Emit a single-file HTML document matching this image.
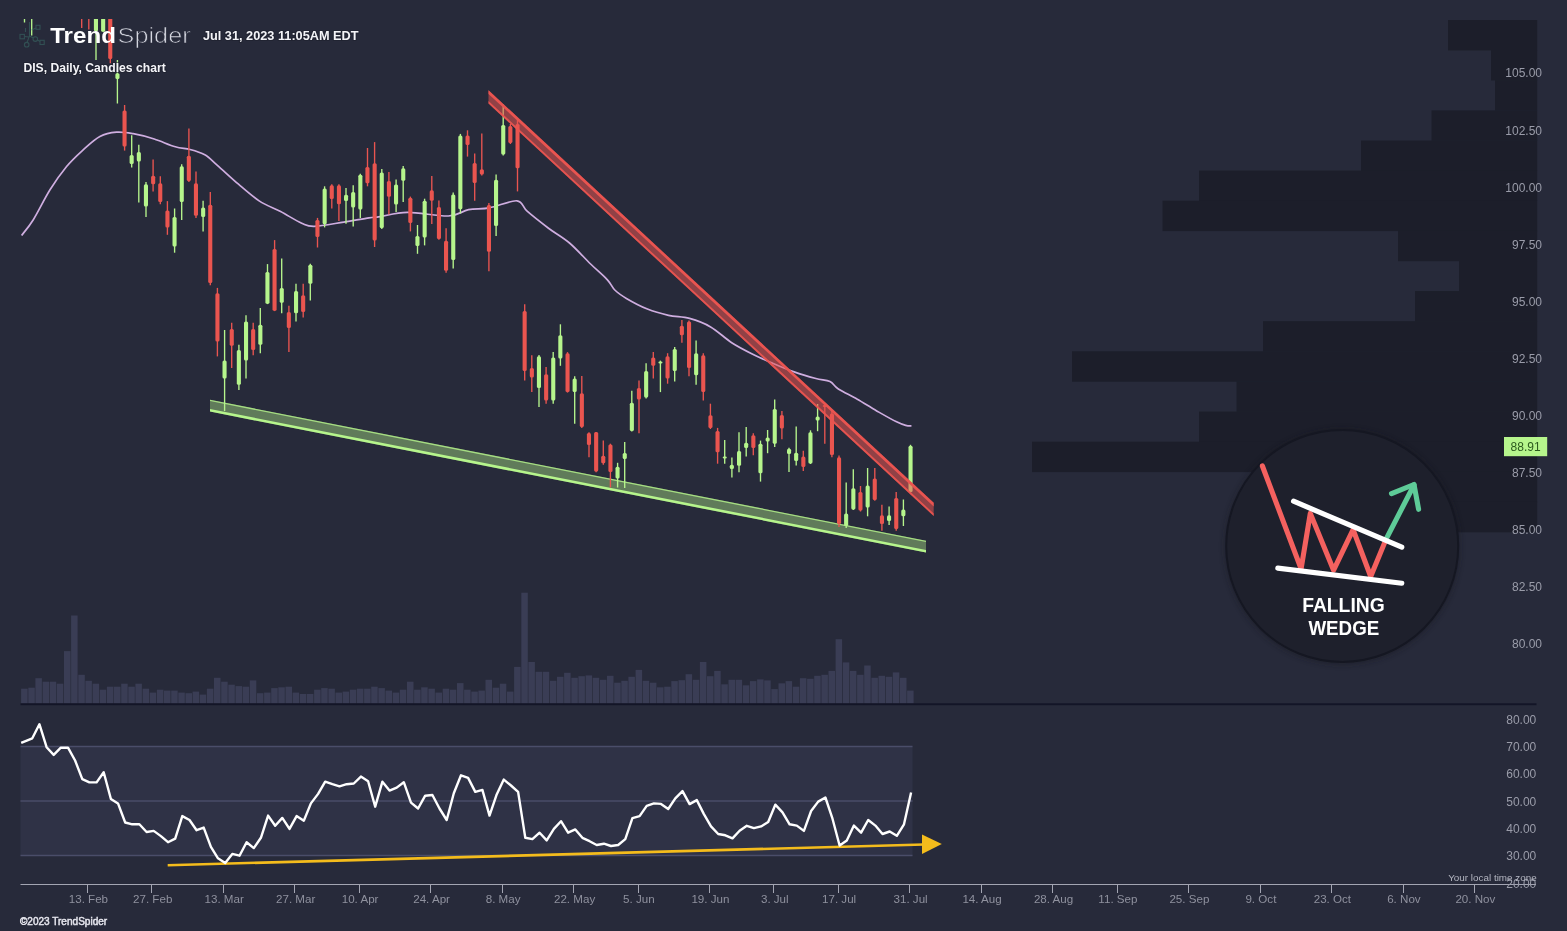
<!DOCTYPE html>
<html><head><meta charset="utf-8"><title>DIS chart</title>
<style>
html,body{margin:0;padding:0;background:#272a3a;}
body{width:1567px;height:931px;overflow:hidden;position:relative;font-family:"Liberation Sans",sans-serif;}
svg{position:absolute;left:0;top:0;display:block;opacity:0.999}
text{font-family:"Liberation Sans",sans-serif;}
</style></head><body>
<svg width="1567" height="931" viewBox="0 0 1567 931">
<defs><clipPath id="cp"><rect x="20.5" y="19" width="1517" height="685"/></clipPath>
<filter id="bl" x="-5%" y="-5%" width="110%" height="110%"><feGaussianBlur stdDeviation="0.4"/></filter>
<filter id="sh" x="-10%" y="-10%" width="120%" height="120%"><feGaussianBlur stdDeviation="2.5"/></filter></defs>
<rect width="1567" height="931" fill="#272a3a"/>
<g fill="#1c1e2a">
<rect x="1448.0" y="20.0" width="89.2" height="30.4"/>
<rect x="1491.0" y="50.1" width="46.2" height="30.4"/>
<rect x="1495.0" y="80.2" width="42.2" height="30.4"/>
<rect x="1431.5" y="110.4" width="105.7" height="30.4"/>
<rect x="1361.0" y="140.5" width="176.2" height="30.4"/>
<rect x="1199.0" y="170.6" width="338.2" height="30.4"/>
<rect x="1162.5" y="200.7" width="374.7" height="30.4"/>
<rect x="1398.0" y="230.8" width="139.2" height="30.4"/>
<rect x="1459.0" y="261.0" width="78.2" height="30.4"/>
<rect x="1415.0" y="291.1" width="122.2" height="30.4"/>
<rect x="1263.0" y="321.2" width="274.2" height="30.4"/>
<rect x="1072.0" y="351.3" width="465.2" height="30.4"/>
<rect x="1236.5" y="381.4" width="300.7" height="30.4"/>
<rect x="1199.0" y="411.6" width="338.2" height="30.4"/>
<rect x="1032.0" y="441.7" width="505.2" height="30.4"/>
<rect x="1290.0" y="471.8" width="247.2" height="30.4"/>
<rect x="1290.0" y="501.9" width="247.2" height="30.4"/>
</g>
<g fill="#3a3d55" clip-path="url(#cp)">
<rect x="21.1" y="688.7" width="6.5" height="14.8"/>
<rect x="28.3" y="687.7" width="6.5" height="15.8"/>
<rect x="35.4" y="678.2" width="6.5" height="25.3"/>
<rect x="42.6" y="681.7" width="6.5" height="21.8"/>
<rect x="49.7" y="681.7" width="6.5" height="21.8"/>
<rect x="56.8" y="683.7" width="6.5" height="19.8"/>
<rect x="64.0" y="651.1" width="6.5" height="52.4"/>
<rect x="71.1" y="615.5" width="6.5" height="88.0"/>
<rect x="78.3" y="674.8" width="6.5" height="28.7"/>
<rect x="85.4" y="680.8" width="6.5" height="22.7"/>
<rect x="92.6" y="683.7" width="6.5" height="19.8"/>
<rect x="99.7" y="689.7" width="6.5" height="13.8"/>
<rect x="106.9" y="686.7" width="6.5" height="16.8"/>
<rect x="114.0" y="686.7" width="6.5" height="16.8"/>
<rect x="121.2" y="683.7" width="6.5" height="19.8"/>
<rect x="128.3" y="686.7" width="6.5" height="16.8"/>
<rect x="135.4" y="683.7" width="6.5" height="19.8"/>
<rect x="142.6" y="688.7" width="6.5" height="14.8"/>
<rect x="149.7" y="692.6" width="6.5" height="10.9"/>
<rect x="156.9" y="689.7" width="6.5" height="13.8"/>
<rect x="164.0" y="690.6" width="6.5" height="12.9"/>
<rect x="171.2" y="690.6" width="6.5" height="12.9"/>
<rect x="178.3" y="692.6" width="6.5" height="10.9"/>
<rect x="185.5" y="693.2" width="6.5" height="10.3"/>
<rect x="192.6" y="691.6" width="6.5" height="11.9"/>
<rect x="199.7" y="694.6" width="6.5" height="8.9"/>
<rect x="206.9" y="688.7" width="6.5" height="14.8"/>
<rect x="214.0" y="677.8" width="6.5" height="25.7"/>
<rect x="221.2" y="681.7" width="6.5" height="21.8"/>
<rect x="228.3" y="684.7" width="6.5" height="18.8"/>
<rect x="235.5" y="686.1" width="6.5" height="17.4"/>
<rect x="242.6" y="686.7" width="6.5" height="16.8"/>
<rect x="249.8" y="680.4" width="6.5" height="23.1"/>
<rect x="256.9" y="693.2" width="6.5" height="10.3"/>
<rect x="264.1" y="692.6" width="6.5" height="10.9"/>
<rect x="271.2" y="688.1" width="6.5" height="15.4"/>
<rect x="278.3" y="687.3" width="6.5" height="16.2"/>
<rect x="285.5" y="686.7" width="6.5" height="16.8"/>
<rect x="292.6" y="692.6" width="6.5" height="10.9"/>
<rect x="299.8" y="694.0" width="6.5" height="9.5"/>
<rect x="306.9" y="694.0" width="6.5" height="9.5"/>
<rect x="314.1" y="689.7" width="6.5" height="13.8"/>
<rect x="321.2" y="688.1" width="6.5" height="15.4"/>
<rect x="328.4" y="688.7" width="6.5" height="14.8"/>
<rect x="335.5" y="692.6" width="6.5" height="10.9"/>
<rect x="342.6" y="691.6" width="6.5" height="11.9"/>
<rect x="349.8" y="689.7" width="6.5" height="13.8"/>
<rect x="356.9" y="688.7" width="6.5" height="14.8"/>
<rect x="364.1" y="688.7" width="6.5" height="14.8"/>
<rect x="371.2" y="686.7" width="6.5" height="16.8"/>
<rect x="378.4" y="688.1" width="6.5" height="15.4"/>
<rect x="385.5" y="690.6" width="6.5" height="12.9"/>
<rect x="392.7" y="692.6" width="6.5" height="10.9"/>
<rect x="399.8" y="689.7" width="6.5" height="13.8"/>
<rect x="407.0" y="681.7" width="6.5" height="21.8"/>
<rect x="414.1" y="689.7" width="6.5" height="13.8"/>
<rect x="421.2" y="687.3" width="6.5" height="16.2"/>
<rect x="428.4" y="688.7" width="6.5" height="14.8"/>
<rect x="435.5" y="692.6" width="6.5" height="10.9"/>
<rect x="442.7" y="688.7" width="6.5" height="14.8"/>
<rect x="449.8" y="689.7" width="6.5" height="13.8"/>
<rect x="457.0" y="683.1" width="6.5" height="20.4"/>
<rect x="464.1" y="689.7" width="6.5" height="13.8"/>
<rect x="471.3" y="691.6" width="6.5" height="11.9"/>
<rect x="478.4" y="690.6" width="6.5" height="12.9"/>
<rect x="485.5" y="679.8" width="6.5" height="23.7"/>
<rect x="492.7" y="687.7" width="6.5" height="15.8"/>
<rect x="499.8" y="683.7" width="6.5" height="19.8"/>
<rect x="507.0" y="691.6" width="6.5" height="11.9"/>
<rect x="514.1" y="666.9" width="6.5" height="36.6"/>
<rect x="521.3" y="592.7" width="6.5" height="110.8"/>
<rect x="528.4" y="662.0" width="6.5" height="41.5"/>
<rect x="535.6" y="671.8" width="6.5" height="31.7"/>
<rect x="542.7" y="671.8" width="6.5" height="31.7"/>
<rect x="549.9" y="680.8" width="6.5" height="22.7"/>
<rect x="557.0" y="676.8" width="6.5" height="26.7"/>
<rect x="564.1" y="672.8" width="6.5" height="30.7"/>
<rect x="571.3" y="677.8" width="6.5" height="25.7"/>
<rect x="578.4" y="676.2" width="6.5" height="27.3"/>
<rect x="585.6" y="675.4" width="6.5" height="28.1"/>
<rect x="592.7" y="677.8" width="6.5" height="25.7"/>
<rect x="599.9" y="679.8" width="6.5" height="23.7"/>
<rect x="607.0" y="675.8" width="6.5" height="27.7"/>
<rect x="614.2" y="682.7" width="6.5" height="20.8"/>
<rect x="621.3" y="680.8" width="6.5" height="22.7"/>
<rect x="628.4" y="676.8" width="6.5" height="26.7"/>
<rect x="635.6" y="669.9" width="6.5" height="33.6"/>
<rect x="642.7" y="680.8" width="6.5" height="22.7"/>
<rect x="649.9" y="682.7" width="6.5" height="20.8"/>
<rect x="657.0" y="687.3" width="6.5" height="16.2"/>
<rect x="664.2" y="686.7" width="6.5" height="16.8"/>
<rect x="671.3" y="681.1" width="6.5" height="22.4"/>
<rect x="678.5" y="680.2" width="6.5" height="23.3"/>
<rect x="685.6" y="674.2" width="6.5" height="29.3"/>
<rect x="692.8" y="679.8" width="6.5" height="23.7"/>
<rect x="699.9" y="662.0" width="6.5" height="41.5"/>
<rect x="707.0" y="676.2" width="6.5" height="27.3"/>
<rect x="714.2" y="670.9" width="6.5" height="32.6"/>
<rect x="721.3" y="684.3" width="6.5" height="19.2"/>
<rect x="728.5" y="679.8" width="6.5" height="23.7"/>
<rect x="735.6" y="679.8" width="6.5" height="23.7"/>
<rect x="742.8" y="685.3" width="6.5" height="18.2"/>
<rect x="749.9" y="681.1" width="6.5" height="22.4"/>
<rect x="757.1" y="679.4" width="6.5" height="24.1"/>
<rect x="764.2" y="680.4" width="6.5" height="23.1"/>
<rect x="771.3" y="689.1" width="6.5" height="14.4"/>
<rect x="778.5" y="683.3" width="6.5" height="20.2"/>
<rect x="785.6" y="681.1" width="6.5" height="22.4"/>
<rect x="792.8" y="686.7" width="6.5" height="16.8"/>
<rect x="799.9" y="678.2" width="6.5" height="25.3"/>
<rect x="807.1" y="678.8" width="6.5" height="24.7"/>
<rect x="814.2" y="675.8" width="6.5" height="27.7"/>
<rect x="821.4" y="674.8" width="6.5" height="28.7"/>
<rect x="828.5" y="670.9" width="6.5" height="32.6"/>
<rect x="835.6" y="639.2" width="6.5" height="64.3"/>
<rect x="842.8" y="662.4" width="6.5" height="41.1"/>
<rect x="849.9" y="670.9" width="6.5" height="32.6"/>
<rect x="857.1" y="674.8" width="6.5" height="28.7"/>
<rect x="864.2" y="665.5" width="6.5" height="38.0"/>
<rect x="871.4" y="677.8" width="6.5" height="25.7"/>
<rect x="878.5" y="675.8" width="6.5" height="27.7"/>
<rect x="885.7" y="676.8" width="6.5" height="26.7"/>
<rect x="892.8" y="672.4" width="6.5" height="31.1"/>
<rect x="900.0" y="677.8" width="6.5" height="25.7"/>
<rect x="907.1" y="690.6" width="6.5" height="12.9"/>
</g>
<path fill="none" stroke="#cfaee0" stroke-width="1.7" stroke-linejoin="round" d="M21.6,235.4 C23.6,232.8 28.6,227.3 33.3,219.7 C38.0,212.1 44.5,198.7 50.0,189.8 C55.5,180.9 61.1,173.2 66.6,166.5 C72.1,159.8 77.7,154.8 83.2,149.8 C88.8,144.8 94.4,139.4 99.9,136.5 C105.5,133.6 111.0,132.7 116.5,132.2 C122.0,131.7 126.9,132.6 133.2,133.7 C139.5,134.8 147.2,136.8 154.2,139.0 C161.2,141.2 169.3,145.1 175.3,146.8 C181.3,148.6 185.1,148.2 190.0,149.5 C194.9,150.8 200.2,152.2 204.8,154.8 C209.4,157.4 211.8,160.4 217.4,165.3 C223.0,170.2 231.5,178.2 238.5,184.2 C245.5,190.2 252.5,196.5 259.5,201.1 C266.5,205.7 273.6,207.9 280.6,211.6 C287.6,215.3 296.1,220.7 301.7,223.2 C307.3,225.7 307.3,226.6 314.3,226.4 C321.3,226.2 334.7,223.5 343.8,222.1 C352.9,220.7 363.0,218.8 369.0,217.9 C375.0,217.0 373.6,217.5 380.0,216.6 C386.4,215.7 396.0,212.5 407.4,212.4 C418.8,212.3 438.2,216.4 448.4,216.0 C458.6,215.6 461.6,211.1 468.5,209.7 C475.4,208.3 481.4,209.3 489.5,207.8 C497.6,206.3 510.6,200.2 516.9,200.8 C523.2,201.4 522.1,206.8 527.4,211.4 C532.7,216.0 541.5,222.9 548.5,228.2 C555.5,233.5 562.5,237.0 569.5,243.0 C576.5,249.0 584.3,257.9 590.6,264.0 C596.9,270.1 603.4,275.5 607.4,279.8 C611.4,284.1 611.6,286.9 614.8,290.0 C618.0,293.1 621.0,295.2 626.4,298.4 C631.8,301.6 640.4,306.2 647.4,309.0 C654.4,311.8 661.5,313.7 668.5,315.3 C675.5,316.9 682.5,316.5 689.5,318.4 C696.5,320.3 703.6,322.8 710.6,326.9 C717.6,330.9 724.7,338.1 731.7,342.7 C738.7,347.2 745.7,350.7 752.7,354.2 C759.7,357.7 766.8,360.7 773.8,363.7 C780.8,366.7 787.8,369.6 794.8,372.1 C801.8,374.6 810.0,376.9 815.9,378.5 C821.8,380.1 826.3,379.9 830.0,381.6 C833.7,383.3 833.5,385.8 838.0,388.7 C842.5,391.6 850.8,395.6 857.3,399.3 C863.8,403.0 870.2,407.2 876.7,410.9 C883.2,414.6 891.2,419.2 896.0,421.6 C900.8,424.0 903.1,424.7 905.7,425.4 C908.3,426.1 910.5,425.9 911.5,426.0"/>
<polygon points="210.0,399.8 926.0,540.7 926.0,552.5 210.0,411.6" fill="#b6f58c" fill-opacity="0.40"/>
<polygon points="210.0,399.8 926.0,540.7 926.0,542.0 210.0,401.1" fill="#b6f58c" fill-opacity="0.8"/>
<polygon points="210.0,409.0 926.0,549.9 926.0,552.5 210.0,411.6" fill="#b6f58c"/>
<g clip-path="url(#cp)" filter="url(#bl)">
<line x1="24.5" y1="0.0" x2="24.5" y2="22.5" stroke="#b6f58c" stroke-width="1.35"/><rect x="22.5" y="0.0" width="4.1" height="5.0" rx="1.5" fill="#b6f58c"/>
<line x1="31.7" y1="0.0" x2="31.7" y2="35.5" stroke="#b6f58c" stroke-width="1.35"/><rect x="29.6" y="0.0" width="4.1" height="5.0" rx="1.5" fill="#b6f58c"/>
<line x1="81.7" y1="0.0" x2="81.7" y2="28.0" stroke="#ea5450" stroke-width="1.35"/><rect x="79.6" y="0.0" width="4.1" height="5.0" rx="1.5" fill="#ea5450"/>
<line x1="88.8" y1="0.0" x2="88.8" y2="29.5" stroke="#ea5450" stroke-width="1.35"/><rect x="86.8" y="0.0" width="4.1" height="5.0" rx="1.5" fill="#ea5450"/>
<line x1="96.0" y1="0.0" x2="96.0" y2="60.0" stroke="#b6f58c" stroke-width="1.35"/><rect x="93.9" y="0.0" width="4.1" height="31.3" rx="1.5" fill="#b6f58c"/>
<line x1="103.1" y1="0.0" x2="103.1" y2="31.7" stroke="#b6f58c" stroke-width="1.35"/><rect x="101.1" y="0.0" width="4.1" height="31.7" rx="1.5" fill="#b6f58c"/>
<line x1="110.3" y1="0.0" x2="110.3" y2="63.3" stroke="#ea5450" stroke-width="1.35"/><rect x="108.2" y="0.0" width="4.1" height="59.0" rx="1.5" fill="#ea5450"/>
<line x1="117.4" y1="60.0" x2="117.4" y2="103.5" stroke="#b6f58c" stroke-width="1.35"/><rect x="115.4" y="73.3" width="4.1" height="5.8" rx="1.5" fill="#b6f58c"/>
<line x1="124.6" y1="105.0" x2="124.6" y2="150.6" stroke="#ea5450" stroke-width="1.35"/><rect x="122.5" y="110.6" width="4.1" height="35.9" rx="1.5" fill="#ea5450"/>
<line x1="131.7" y1="135.3" x2="131.7" y2="167.5" stroke="#b6f58c" stroke-width="1.35"/><rect x="129.6" y="155.0" width="4.1" height="9.0" rx="1.5" fill="#b6f58c"/>
<line x1="138.8" y1="144.7" x2="138.8" y2="202.6" stroke="#b6f58c" stroke-width="1.35"/><rect x="136.8" y="152.0" width="4.1" height="9.5" rx="1.5" fill="#b6f58c"/>
<line x1="146.0" y1="182.1" x2="146.0" y2="216.9" stroke="#b6f58c" stroke-width="1.35"/><rect x="143.9" y="184.2" width="4.1" height="22.2" rx="1.5" fill="#b6f58c"/>
<line x1="153.1" y1="159.6" x2="153.1" y2="191.6" stroke="#ea5450" stroke-width="1.35"/><rect x="151.1" y="175.8" width="4.1" height="8.4" rx="1.5" fill="#ea5450"/>
<line x1="160.3" y1="176.2" x2="160.3" y2="204.2" stroke="#ea5450" stroke-width="1.35"/><rect x="158.2" y="183.2" width="4.1" height="18.9" rx="1.5" fill="#ea5450"/>
<line x1="167.4" y1="201.1" x2="167.4" y2="234.8" stroke="#ea5450" stroke-width="1.35"/><rect x="165.4" y="210.6" width="4.1" height="16.8" rx="1.5" fill="#ea5450"/>
<line x1="174.6" y1="208.5" x2="174.6" y2="252.7" stroke="#b6f58c" stroke-width="1.35"/><rect x="172.5" y="216.9" width="4.1" height="29.5" rx="1.5" fill="#b6f58c"/>
<line x1="181.7" y1="164.2" x2="181.7" y2="220.0" stroke="#b6f58c" stroke-width="1.35"/><rect x="179.7" y="166.3" width="4.1" height="35.8" rx="1.5" fill="#b6f58c"/>
<line x1="188.9" y1="128.4" x2="188.9" y2="182.1" stroke="#ea5450" stroke-width="1.35"/><rect x="186.8" y="155.8" width="4.1" height="25.3" rx="1.5" fill="#ea5450"/>
<line x1="196.0" y1="171.6" x2="196.0" y2="217.9" stroke="#ea5450" stroke-width="1.35"/><rect x="193.9" y="183.2" width="4.1" height="32.6" rx="1.5" fill="#ea5450"/>
<line x1="203.1" y1="200.7" x2="203.1" y2="231.6" stroke="#b6f58c" stroke-width="1.35"/><rect x="201.1" y="207.4" width="4.1" height="9.5" rx="1.5" fill="#b6f58c"/>
<line x1="210.3" y1="192.0" x2="210.3" y2="285.2" stroke="#ea5450" stroke-width="1.35"/><rect x="208.2" y="204.7" width="4.1" height="78.3" rx="1.5" fill="#ea5450"/>
<line x1="217.4" y1="287.9" x2="217.4" y2="356.4" stroke="#ea5450" stroke-width="1.35"/><rect x="215.4" y="293.2" width="4.1" height="48.4" rx="1.5" fill="#ea5450"/>
<line x1="224.6" y1="330.0" x2="224.6" y2="411.1" stroke="#b6f58c" stroke-width="1.35"/><rect x="222.5" y="360.6" width="4.1" height="17.9" rx="1.5" fill="#b6f58c"/>
<line x1="231.7" y1="322.7" x2="231.7" y2="368.0" stroke="#ea5450" stroke-width="1.35"/><rect x="229.7" y="329.0" width="4.1" height="16.8" rx="1.5" fill="#ea5450"/>
<line x1="238.9" y1="344.8" x2="238.9" y2="390.0" stroke="#b6f58c" stroke-width="1.35"/><rect x="236.8" y="350.0" width="4.1" height="34.8" rx="1.5" fill="#b6f58c"/>
<line x1="246.0" y1="315.3" x2="246.0" y2="378.5" stroke="#b6f58c" stroke-width="1.35"/><rect x="244.0" y="321.6" width="4.1" height="39.0" rx="1.5" fill="#b6f58c"/>
<line x1="253.2" y1="322.7" x2="253.2" y2="355.3" stroke="#ea5450" stroke-width="1.35"/><rect x="251.1" y="329.0" width="4.1" height="21.0" rx="1.5" fill="#ea5450"/>
<line x1="260.3" y1="307.9" x2="260.3" y2="353.2" stroke="#b6f58c" stroke-width="1.35"/><rect x="258.3" y="324.8" width="4.1" height="20.0" rx="1.5" fill="#b6f58c"/>
<line x1="267.5" y1="264.1" x2="267.5" y2="304.1" stroke="#b6f58c" stroke-width="1.35"/><rect x="265.4" y="272.1" width="4.1" height="31.6" rx="1.5" fill="#b6f58c"/>
<line x1="274.6" y1="240.1" x2="274.6" y2="311.1" stroke="#ea5450" stroke-width="1.35"/><rect x="272.5" y="249.0" width="4.1" height="61.7" rx="1.5" fill="#ea5450"/>
<line x1="281.7" y1="258.4" x2="281.7" y2="313.2" stroke="#b6f58c" stroke-width="1.35"/><rect x="279.7" y="287.9" width="4.1" height="14.8" rx="1.5" fill="#b6f58c"/>
<line x1="288.9" y1="305.8" x2="288.9" y2="352.1" stroke="#ea5450" stroke-width="1.35"/><rect x="286.8" y="312.1" width="4.1" height="15.8" rx="1.5" fill="#ea5450"/>
<line x1="296.0" y1="283.7" x2="296.0" y2="321.6" stroke="#b6f58c" stroke-width="1.35"/><rect x="294.0" y="291.1" width="4.1" height="22.1" rx="1.5" fill="#b6f58c"/>
<line x1="303.2" y1="283.7" x2="303.2" y2="317.4" stroke="#ea5450" stroke-width="1.35"/><rect x="301.1" y="295.3" width="4.1" height="16.8" rx="1.5" fill="#ea5450"/>
<line x1="310.3" y1="263.7" x2="310.3" y2="300.6" stroke="#b6f58c" stroke-width="1.35"/><rect x="308.3" y="264.7" width="4.1" height="19.0" rx="1.5" fill="#b6f58c"/>
<line x1="317.5" y1="217.9" x2="317.5" y2="247.5" stroke="#ea5450" stroke-width="1.35"/><rect x="315.4" y="220.0" width="4.1" height="17.0" rx="1.5" fill="#ea5450"/>
<line x1="324.6" y1="186.3" x2="324.6" y2="227.4" stroke="#b6f58c" stroke-width="1.35"/><rect x="322.6" y="188.5" width="4.1" height="35.8" rx="1.5" fill="#b6f58c"/>
<line x1="331.8" y1="184.2" x2="331.8" y2="208.5" stroke="#ea5450" stroke-width="1.35"/><rect x="329.7" y="185.3" width="4.1" height="13.7" rx="1.5" fill="#ea5450"/>
<line x1="338.9" y1="184.2" x2="338.9" y2="221.1" stroke="#ea5450" stroke-width="1.35"/><rect x="336.9" y="185.3" width="4.1" height="18.9" rx="1.5" fill="#ea5450"/>
<line x1="346.0" y1="188.0" x2="346.0" y2="223.8" stroke="#b6f58c" stroke-width="1.35"/><rect x="344.0" y="194.8" width="4.1" height="6.3" rx="1.5" fill="#b6f58c"/>
<line x1="353.2" y1="185.3" x2="353.2" y2="226.4" stroke="#b6f58c" stroke-width="1.35"/><rect x="351.1" y="192.0" width="4.1" height="15.4" rx="1.5" fill="#b6f58c"/>
<line x1="360.3" y1="173.7" x2="360.3" y2="217.9" stroke="#b6f58c" stroke-width="1.35"/><rect x="358.3" y="174.8" width="4.1" height="34.7" rx="1.5" fill="#b6f58c"/>
<line x1="367.5" y1="148.0" x2="367.5" y2="186.3" stroke="#ea5450" stroke-width="1.35"/><rect x="365.4" y="167.0" width="4.1" height="16.2" rx="1.5" fill="#ea5450"/>
<line x1="374.6" y1="142.1" x2="374.6" y2="247.0" stroke="#ea5450" stroke-width="1.35"/><rect x="372.6" y="163.2" width="4.1" height="77.4" rx="1.5" fill="#ea5450"/>
<line x1="381.8" y1="169.0" x2="381.8" y2="228.9" stroke="#b6f58c" stroke-width="1.35"/><rect x="379.7" y="172.5" width="4.1" height="55.6" rx="1.5" fill="#b6f58c"/>
<line x1="388.9" y1="172.0" x2="388.9" y2="214.6" stroke="#ea5450" stroke-width="1.35"/><rect x="386.9" y="181.0" width="4.1" height="15.7" rx="1.5" fill="#ea5450"/>
<line x1="396.1" y1="179.4" x2="396.1" y2="212.0" stroke="#b6f58c" stroke-width="1.35"/><rect x="394.0" y="184.6" width="4.1" height="20.0" rx="1.5" fill="#b6f58c"/>
<line x1="403.2" y1="166.1" x2="403.2" y2="201.9" stroke="#b6f58c" stroke-width="1.35"/><rect x="401.2" y="168.2" width="4.1" height="12.6" rx="1.5" fill="#b6f58c"/>
<line x1="410.4" y1="196.6" x2="410.4" y2="231.4" stroke="#ea5450" stroke-width="1.35"/><rect x="408.3" y="197.7" width="4.1" height="25.3" rx="1.5" fill="#ea5450"/>
<line x1="417.5" y1="225.0" x2="417.5" y2="253.8" stroke="#b6f58c" stroke-width="1.35"/><rect x="415.4" y="236.0" width="4.1" height="10.0" rx="1.5" fill="#b6f58c"/>
<line x1="424.6" y1="198.7" x2="424.6" y2="245.4" stroke="#b6f58c" stroke-width="1.35"/><rect x="422.6" y="200.8" width="4.1" height="36.7" rx="1.5" fill="#b6f58c"/>
<line x1="431.8" y1="176.0" x2="431.8" y2="224.0" stroke="#ea5450" stroke-width="1.35"/><rect x="429.7" y="190.3" width="4.1" height="10.5" rx="1.5" fill="#ea5450"/>
<line x1="438.9" y1="200.4" x2="438.9" y2="239.8" stroke="#ea5450" stroke-width="1.35"/><rect x="436.9" y="207.1" width="4.1" height="31.8" rx="1.5" fill="#ea5450"/>
<line x1="446.1" y1="228.2" x2="446.1" y2="272.8" stroke="#ea5450" stroke-width="1.35"/><rect x="444.0" y="240.7" width="4.1" height="30.0" rx="1.5" fill="#ea5450"/>
<line x1="453.2" y1="192.4" x2="453.2" y2="268.5" stroke="#b6f58c" stroke-width="1.35"/><rect x="451.2" y="194.5" width="4.1" height="65.5" rx="1.5" fill="#b6f58c"/>
<line x1="460.4" y1="133.9" x2="460.4" y2="213.5" stroke="#b6f58c" stroke-width="1.35"/><rect x="458.3" y="135.5" width="4.1" height="73.8" rx="1.5" fill="#b6f58c"/>
<line x1="467.5" y1="130.3" x2="467.5" y2="156.6" stroke="#ea5450" stroke-width="1.35"/><rect x="465.5" y="135.5" width="4.1" height="9.5" rx="1.5" fill="#ea5450"/>
<line x1="474.7" y1="153.4" x2="474.7" y2="200.8" stroke="#ea5450" stroke-width="1.35"/><rect x="472.6" y="162.9" width="4.1" height="20.0" rx="1.5" fill="#ea5450"/>
<line x1="481.8" y1="133.4" x2="481.8" y2="175.6" stroke="#ea5450" stroke-width="1.35"/><rect x="479.8" y="169.2" width="4.1" height="5.3" rx="1.5" fill="#ea5450"/>
<line x1="488.9" y1="202.9" x2="488.9" y2="271.2" stroke="#ea5450" stroke-width="1.35"/><rect x="486.9" y="205.0" width="4.1" height="46.7" rx="1.5" fill="#ea5450"/>
<line x1="496.1" y1="174.5" x2="496.1" y2="235.9" stroke="#b6f58c" stroke-width="1.35"/><rect x="494.0" y="179.8" width="4.1" height="46.3" rx="1.5" fill="#b6f58c"/>
<line x1="503.2" y1="104.4" x2="503.2" y2="155.5" stroke="#b6f58c" stroke-width="1.35"/><rect x="501.2" y="125.0" width="4.1" height="29.5" rx="1.5" fill="#b6f58c"/>
<line x1="510.4" y1="124.0" x2="510.4" y2="144.0" stroke="#ea5450" stroke-width="1.35"/><rect x="508.3" y="126.0" width="4.1" height="16.9" rx="1.5" fill="#ea5450"/>
<line x1="517.5" y1="119.7" x2="517.5" y2="191.4" stroke="#ea5450" stroke-width="1.35"/><rect x="515.5" y="124.0" width="4.1" height="44.2" rx="1.5" fill="#ea5450"/>
<line x1="524.7" y1="304.3" x2="524.7" y2="380.6" stroke="#ea5450" stroke-width="1.35"/><rect x="522.6" y="311.1" width="4.1" height="60.0" rx="1.5" fill="#ea5450"/>
<line x1="531.8" y1="355.3" x2="531.8" y2="392.1" stroke="#ea5450" stroke-width="1.35"/><rect x="529.8" y="367.9" width="4.1" height="9.5" rx="1.5" fill="#ea5450"/>
<line x1="539.0" y1="354.9" x2="539.0" y2="406.9" stroke="#b6f58c" stroke-width="1.35"/><rect x="536.9" y="356.3" width="4.1" height="31.6" rx="1.5" fill="#b6f58c"/>
<line x1="546.1" y1="366.9" x2="546.1" y2="403.7" stroke="#ea5450" stroke-width="1.35"/><rect x="544.1" y="374.2" width="4.1" height="26.4" rx="1.5" fill="#ea5450"/>
<line x1="553.2" y1="352.1" x2="553.2" y2="403.7" stroke="#b6f58c" stroke-width="1.35"/><rect x="551.2" y="357.4" width="4.1" height="43.2" rx="1.5" fill="#b6f58c"/>
<line x1="560.4" y1="324.3" x2="560.4" y2="365.8" stroke="#b6f58c" stroke-width="1.35"/><rect x="558.3" y="335.3" width="4.1" height="23.1" rx="1.5" fill="#b6f58c"/>
<line x1="567.5" y1="352.1" x2="567.5" y2="392.6" stroke="#ea5450" stroke-width="1.35"/><rect x="565.5" y="353.2" width="4.1" height="38.9" rx="1.5" fill="#ea5450"/>
<line x1="574.7" y1="376.3" x2="574.7" y2="423.7" stroke="#b6f58c" stroke-width="1.35"/><rect x="572.6" y="378.5" width="4.1" height="13.6" rx="1.5" fill="#b6f58c"/>
<line x1="581.8" y1="375.9" x2="581.8" y2="427.9" stroke="#ea5450" stroke-width="1.35"/><rect x="579.8" y="393.2" width="4.1" height="33.7" rx="1.5" fill="#ea5450"/>
<line x1="589.0" y1="432.2" x2="589.0" y2="457.2" stroke="#ea5450" stroke-width="1.35"/><rect x="586.9" y="433.0" width="4.1" height="11.9" rx="1.5" fill="#ea5450"/>
<line x1="596.1" y1="432.0" x2="596.1" y2="472.2" stroke="#ea5450" stroke-width="1.35"/><rect x="594.1" y="432.0" width="4.1" height="39.6" rx="1.5" fill="#ea5450"/>
<line x1="603.3" y1="440.4" x2="603.3" y2="464.8" stroke="#ea5450" stroke-width="1.35"/><rect x="601.2" y="455.7" width="4.1" height="7.6" rx="1.5" fill="#ea5450"/>
<line x1="610.4" y1="443.7" x2="610.4" y2="487.5" stroke="#ea5450" stroke-width="1.35"/><rect x="608.4" y="444.6" width="4.1" height="27.4" rx="1.5" fill="#ea5450"/>
<line x1="617.6" y1="462.8" x2="617.6" y2="487.5" stroke="#b6f58c" stroke-width="1.35"/><rect x="615.5" y="466.8" width="4.1" height="11.7" rx="1.5" fill="#b6f58c"/>
<line x1="624.7" y1="442.1" x2="624.7" y2="487.9" stroke="#b6f58c" stroke-width="1.35"/><rect x="622.7" y="453.0" width="4.1" height="5.9" rx="1.5" fill="#b6f58c"/>
<line x1="631.8" y1="390.7" x2="631.8" y2="431.5" stroke="#b6f58c" stroke-width="1.35"/><rect x="629.8" y="402.7" width="4.1" height="28.4" rx="1.5" fill="#b6f58c"/>
<line x1="639.0" y1="380.6" x2="639.0" y2="433.2" stroke="#ea5450" stroke-width="1.35"/><rect x="636.9" y="387.9" width="4.1" height="11.6" rx="1.5" fill="#ea5450"/>
<line x1="646.1" y1="363.3" x2="646.1" y2="398.5" stroke="#b6f58c" stroke-width="1.35"/><rect x="644.1" y="371.1" width="4.1" height="26.3" rx="1.5" fill="#b6f58c"/>
<line x1="653.3" y1="352.1" x2="653.3" y2="378.5" stroke="#ea5450" stroke-width="1.35"/><rect x="651.2" y="357.4" width="4.1" height="8.4" rx="1.5" fill="#ea5450"/>
<line x1="660.4" y1="360.6" x2="660.4" y2="392.1" stroke="#b6f58c" stroke-width="1.35"/><rect x="658.4" y="361.5" width="4.1" height="2.0" rx="1.5" fill="#b6f58c"/>
<line x1="667.6" y1="353.2" x2="667.6" y2="383.7" stroke="#ea5450" stroke-width="1.35"/><rect x="665.5" y="356.3" width="4.1" height="22.2" rx="1.5" fill="#ea5450"/>
<line x1="674.7" y1="346.9" x2="674.7" y2="381.6" stroke="#b6f58c" stroke-width="1.35"/><rect x="672.7" y="349.0" width="4.1" height="22.1" rx="1.5" fill="#b6f58c"/>
<line x1="681.9" y1="320.1" x2="681.9" y2="342.7" stroke="#ea5450" stroke-width="1.35"/><rect x="679.8" y="325.8" width="4.1" height="9.5" rx="1.5" fill="#ea5450"/>
<line x1="689.0" y1="320.5" x2="689.0" y2="376.3" stroke="#ea5450" stroke-width="1.35"/><rect x="687.0" y="321.6" width="4.1" height="46.3" rx="1.5" fill="#ea5450"/>
<line x1="696.1" y1="340.5" x2="696.1" y2="384.8" stroke="#b6f58c" stroke-width="1.35"/><rect x="694.1" y="353.2" width="4.1" height="22.1" rx="1.5" fill="#b6f58c"/>
<line x1="703.3" y1="353.2" x2="703.3" y2="400.6" stroke="#ea5450" stroke-width="1.35"/><rect x="701.2" y="355.3" width="4.1" height="36.8" rx="1.5" fill="#ea5450"/>
<line x1="710.4" y1="403.7" x2="710.4" y2="429.0" stroke="#ea5450" stroke-width="1.35"/><rect x="708.4" y="415.3" width="4.1" height="12.6" rx="1.5" fill="#ea5450"/>
<line x1="717.6" y1="427.9" x2="717.6" y2="463.7" stroke="#ea5450" stroke-width="1.35"/><rect x="715.5" y="431.1" width="4.1" height="21.1" rx="1.5" fill="#ea5450"/>
<line x1="724.7" y1="440.0" x2="724.7" y2="463.7" stroke="#b6f58c" stroke-width="1.35"/><rect x="722.7" y="456.4" width="4.1" height="2.1" rx="1.5" fill="#b6f58c"/>
<line x1="731.9" y1="457.4" x2="731.9" y2="477.4" stroke="#b6f58c" stroke-width="1.35"/><rect x="729.8" y="464.8" width="4.1" height="4.2" rx="1.5" fill="#b6f58c"/>
<line x1="739.0" y1="432.2" x2="739.0" y2="472.2" stroke="#b6f58c" stroke-width="1.35"/><rect x="737.0" y="451.1" width="4.1" height="14.7" rx="1.5" fill="#b6f58c"/>
<line x1="746.2" y1="426.9" x2="746.2" y2="456.4" stroke="#b6f58c" stroke-width="1.35"/><rect x="744.1" y="442.7" width="4.1" height="5.3" rx="1.5" fill="#b6f58c"/>
<line x1="753.3" y1="433.2" x2="753.3" y2="455.3" stroke="#ea5450" stroke-width="1.35"/><rect x="751.3" y="435.3" width="4.1" height="12.7" rx="1.5" fill="#ea5450"/>
<line x1="760.5" y1="440.6" x2="760.5" y2="481.6" stroke="#b6f58c" stroke-width="1.35"/><rect x="758.4" y="443.7" width="4.1" height="29.5" rx="1.5" fill="#b6f58c"/>
<line x1="767.6" y1="430.0" x2="767.6" y2="453.2" stroke="#b6f58c" stroke-width="1.35"/><rect x="765.6" y="437.4" width="4.1" height="4.2" rx="1.5" fill="#b6f58c"/>
<line x1="774.7" y1="399.5" x2="774.7" y2="446.9" stroke="#b6f58c" stroke-width="1.35"/><rect x="772.7" y="409.0" width="4.1" height="34.7" rx="1.5" fill="#b6f58c"/>
<line x1="781.9" y1="411.0" x2="781.9" y2="439.2" stroke="#ea5450" stroke-width="1.35"/><rect x="779.8" y="415.0" width="4.1" height="13.6" rx="1.5" fill="#ea5450"/>
<line x1="789.0" y1="447.8" x2="789.0" y2="472.0" stroke="#b6f58c" stroke-width="1.35"/><rect x="787.0" y="448.8" width="4.1" height="5.2" rx="1.5" fill="#b6f58c"/>
<line x1="796.2" y1="426.6" x2="796.2" y2="465.4" stroke="#b6f58c" stroke-width="1.35"/><rect x="794.1" y="452.8" width="4.1" height="8.2" rx="1.5" fill="#b6f58c"/>
<line x1="803.3" y1="450.8" x2="803.3" y2="471.0" stroke="#ea5450" stroke-width="1.35"/><rect x="801.3" y="456.4" width="4.1" height="10.6" rx="1.5" fill="#ea5450"/>
<line x1="810.5" y1="430.3" x2="810.5" y2="464.0" stroke="#b6f58c" stroke-width="1.35"/><rect x="808.4" y="432.2" width="4.1" height="31.4" rx="1.5" fill="#b6f58c"/>
<line x1="817.6" y1="404.0" x2="817.6" y2="431.2" stroke="#b6f58c" stroke-width="1.35"/><rect x="815.6" y="416.5" width="4.1" height="4.1" rx="1.5" fill="#b6f58c"/>
<line x1="824.8" y1="403.2" x2="824.8" y2="443.8" stroke="#ea5450" stroke-width="1.35"/><rect x="822.7" y="405.0" width="4.1" height="2.0" rx="1.5" fill="#ea5450"/>
<line x1="831.9" y1="410.9" x2="831.9" y2="457.3" stroke="#ea5450" stroke-width="1.35"/><rect x="829.9" y="413.5" width="4.1" height="41.5" rx="1.5" fill="#ea5450"/>
<line x1="839.0" y1="455.4" x2="839.0" y2="526.9" stroke="#ea5450" stroke-width="1.35"/><rect x="837.0" y="457.3" width="4.1" height="66.7" rx="1.5" fill="#ea5450"/>
<line x1="846.2" y1="482.5" x2="846.2" y2="527.9" stroke="#b6f58c" stroke-width="1.35"/><rect x="844.1" y="513.4" width="4.1" height="12.6" rx="1.5" fill="#b6f58c"/>
<line x1="853.3" y1="469.3" x2="853.3" y2="510.0" stroke="#b6f58c" stroke-width="1.35"/><rect x="851.3" y="488.3" width="4.1" height="21.2" rx="1.5" fill="#b6f58c"/>
<line x1="860.5" y1="486.0" x2="860.5" y2="511.5" stroke="#ea5450" stroke-width="1.35"/><rect x="858.4" y="492.1" width="4.1" height="18.4" rx="1.5" fill="#ea5450"/>
<line x1="867.6" y1="468.0" x2="867.6" y2="516.3" stroke="#b6f58c" stroke-width="1.35"/><rect x="865.6" y="485.4" width="4.1" height="22.2" rx="1.5" fill="#b6f58c"/>
<line x1="874.8" y1="468.0" x2="874.8" y2="500.8" stroke="#ea5450" stroke-width="1.35"/><rect x="872.7" y="478.6" width="4.1" height="21.3" rx="1.5" fill="#ea5450"/>
<line x1="881.9" y1="504.7" x2="881.9" y2="530.8" stroke="#ea5450" stroke-width="1.35"/><rect x="879.9" y="515.3" width="4.1" height="8.7" rx="1.5" fill="#ea5450"/>
<line x1="889.1" y1="506.6" x2="889.1" y2="525.0" stroke="#b6f58c" stroke-width="1.35"/><rect x="887.0" y="515.3" width="4.1" height="5.8" rx="1.5" fill="#b6f58c"/>
<line x1="896.2" y1="492.1" x2="896.2" y2="530.8" stroke="#ea5450" stroke-width="1.35"/><rect x="894.2" y="497.9" width="4.1" height="31.0" rx="1.5" fill="#ea5450"/>
<line x1="903.4" y1="499.5" x2="903.4" y2="526.0" stroke="#b6f58c" stroke-width="1.35"/><rect x="901.3" y="509.5" width="4.1" height="6.8" rx="1.5" fill="#b6f58c"/>
<line x1="910.5" y1="444.8" x2="910.5" y2="492.5" stroke="#b6f58c" stroke-width="1.35"/><rect x="908.5" y="445.7" width="4.1" height="46.4" rx="1.5" fill="#b6f58c"/>
</g>
<polygon points="488.5,90.3 933.7,502.8 933.7,516.0 488.5,103.5" fill="#ea5450" fill-opacity="0.55"/>
<polygon points="488.5,90.3 933.7,502.8 933.7,506.4 488.5,93.9" fill="#ea5450"/>
<polygon points="488.5,100.9 933.7,513.4 933.7,516.0 488.5,103.5" fill="#ea5450" fill-opacity="0.95"/>
<rect x="20.5" y="703.3" width="1516" height="1.9" fill="#131527"/>
<rect x="20.5" y="746.2" width="892" height="109.4" fill="#2f3246"/>
<line x1="20.5" y1="746.5" x2="912.5" y2="746.5" stroke="#4a4d69" stroke-width="1.5"/>
<line x1="20.5" y1="801.0" x2="912.5" y2="801.0" stroke="#4a4d69" stroke-width="1.5"/>
<line x1="20.5" y1="855.4" x2="912.5" y2="855.4" stroke="#4a4d69" stroke-width="1.5"/>
<line x1="167.7" y1="865.2" x2="924" y2="844.5" stroke="#f4bc1c" stroke-width="2.6"/>
<polygon points="922,834.6 941.8,844 922,854" fill="#f4bc1c"/>
<polyline fill="none" stroke="#ffffff" stroke-width="2.4" stroke-linejoin="round" points="21.2,742.9 32.3,738.3 39.4,724.2 46.6,747.2 53.7,754.9 60.8,747.7 68.0,747.7 75.1,760.5 82.3,779.1 89.4,782.4 96.6,782.4 103.7,772.2 110.9,799.0 118.0,803.4 125.2,822.5 132.3,824.3 139.4,824.3 146.6,832.0 153.7,830.9 160.9,836.1 168.0,842.2 175.2,838.6 182.3,816.1 189.5,820.0 196.6,830.2 203.7,827.6 210.9,846.8 218.0,858.3 225.2,862.9 232.3,853.9 239.5,855.7 246.6,842.2 253.8,848.1 260.9,837.8 268.1,815.6 275.2,825.8 282.3,817.9 289.5,828.9 296.6,816.1 303.8,820.7 310.9,803.4 318.1,793.9 325.2,781.7 332.4,784.2 339.5,786.3 346.6,784.2 353.8,783.5 360.9,776.6 368.1,781.2 375.2,806.7 382.4,781.7 389.5,790.6 396.7,787.6 403.8,782.2 411.0,802.6 418.1,808.5 425.2,795.7 432.4,795.0 439.5,808.5 446.7,820.0 453.8,793.2 461.0,775.3 468.1,777.9 475.3,791.9 482.4,789.9 489.5,815.6 496.7,794.4 503.8,779.6 511.0,785.5 518.1,791.9 525.3,837.8 532.4,839.1 539.6,832.7 546.7,840.4 553.9,828.9 561.0,821.2 568.1,832.7 575.3,829.4 582.4,837.8 589.6,841.2 596.7,845.0 603.9,843.7 611.0,846.0 618.2,845.0 625.3,839.1 632.4,818.2 639.6,816.1 646.7,805.9 653.9,803.4 661.0,803.9 668.2,809.0 675.3,798.3 682.5,791.1 689.6,804.1 696.8,800.1 703.9,814.1 711.0,826.4 718.2,834.0 725.3,835.3 732.5,838.4 739.6,830.7 746.8,825.8 753.9,828.1 761.1,826.4 768.2,822.0 775.3,804.7 782.5,812.3 789.6,824.3 796.8,825.6 803.9,830.9 811.1,811.0 818.2,801.6 825.4,797.5 832.5,818.7 839.6,845.5 846.8,840.4 853.9,825.6 861.1,832.7 868.2,820.0 875.4,825.6 882.5,834.0 889.7,831.5 896.8,835.8 904.0,824.3 911.1,792.4"/>
<line x1="20.5" y1="884.5" x2="1536" y2="884.5" stroke="#a3a5b2" stroke-width="1"/>
<line x1="87.5" y1="884.3" x2="87.5" y2="893" stroke="#a3a5b2" stroke-width="1"/><text x="88.4" y="903.2" font-size="11.6" fill="#8f919e" text-anchor="middle">13. Feb</text>
<line x1="151.5" y1="884.3" x2="151.5" y2="893" stroke="#a3a5b2" stroke-width="1"/><text x="152.7" y="903.2" font-size="11.6" fill="#8f919e" text-anchor="middle">27. Feb</text>
<line x1="223.5" y1="884.3" x2="223.5" y2="893" stroke="#a3a5b2" stroke-width="1"/><text x="224.2" y="903.2" font-size="11.6" fill="#8f919e" text-anchor="middle">13. Mar</text>
<line x1="294.5" y1="884.3" x2="294.5" y2="893" stroke="#a3a5b2" stroke-width="1"/><text x="295.7" y="903.2" font-size="11.6" fill="#8f919e" text-anchor="middle">27. Mar</text>
<line x1="359.5" y1="884.3" x2="359.5" y2="893" stroke="#a3a5b2" stroke-width="1"/><text x="360.1" y="903.2" font-size="11.6" fill="#8f919e" text-anchor="middle">10. Apr</text>
<line x1="430.5" y1="884.3" x2="430.5" y2="893" stroke="#a3a5b2" stroke-width="1"/><text x="431.6" y="903.2" font-size="11.6" fill="#8f919e" text-anchor="middle">24. Apr</text>
<line x1="502.5" y1="884.3" x2="502.5" y2="893" stroke="#a3a5b2" stroke-width="1"/><text x="503.1" y="903.2" font-size="11.6" fill="#8f919e" text-anchor="middle">8. May</text>
<line x1="573.5" y1="884.3" x2="573.5" y2="893" stroke="#a3a5b2" stroke-width="1"/><text x="574.6" y="903.2" font-size="11.6" fill="#8f919e" text-anchor="middle">22. May</text>
<line x1="638.5" y1="884.3" x2="638.5" y2="893" stroke="#a3a5b2" stroke-width="1"/><text x="638.9" y="903.2" font-size="11.6" fill="#8f919e" text-anchor="middle">5. Jun</text>
<line x1="709.5" y1="884.3" x2="709.5" y2="893" stroke="#a3a5b2" stroke-width="1"/><text x="710.4" y="903.2" font-size="11.6" fill="#8f919e" text-anchor="middle">19. Jun</text>
<line x1="773.5" y1="884.3" x2="773.5" y2="893" stroke="#a3a5b2" stroke-width="1"/><text x="774.8" y="903.2" font-size="11.6" fill="#8f919e" text-anchor="middle">3. Jul</text>
<line x1="838.5" y1="884.3" x2="838.5" y2="893" stroke="#a3a5b2" stroke-width="1"/><text x="839.1" y="903.2" font-size="11.6" fill="#8f919e" text-anchor="middle">17. Jul</text>
<line x1="909.5" y1="884.3" x2="909.5" y2="893" stroke="#a3a5b2" stroke-width="1"/><text x="910.6" y="903.2" font-size="11.6" fill="#8f919e" text-anchor="middle">31. Jul</text>
<line x1="981.5" y1="884.3" x2="981.5" y2="893" stroke="#a3a5b2" stroke-width="1"/><text x="982.1" y="903.2" font-size="11.6" fill="#8f919e" text-anchor="middle">14. Aug</text>
<line x1="1052.5" y1="884.3" x2="1052.5" y2="893" stroke="#a3a5b2" stroke-width="1"/><text x="1053.6" y="903.2" font-size="11.6" fill="#8f919e" text-anchor="middle">28. Aug</text>
<line x1="1117.5" y1="884.3" x2="1117.5" y2="893" stroke="#a3a5b2" stroke-width="1"/><text x="1117.9" y="903.2" font-size="11.6" fill="#8f919e" text-anchor="middle">11. Sep</text>
<line x1="1188.5" y1="884.3" x2="1188.5" y2="893" stroke="#a3a5b2" stroke-width="1"/><text x="1189.4" y="903.2" font-size="11.6" fill="#8f919e" text-anchor="middle">25. Sep</text>
<line x1="1260.5" y1="884.3" x2="1260.5" y2="893" stroke="#a3a5b2" stroke-width="1"/><text x="1260.9" y="903.2" font-size="11.6" fill="#8f919e" text-anchor="middle">9. Oct</text>
<line x1="1331.5" y1="884.3" x2="1331.5" y2="893" stroke="#a3a5b2" stroke-width="1"/><text x="1332.4" y="903.2" font-size="11.6" fill="#8f919e" text-anchor="middle">23. Oct</text>
<line x1="1403.5" y1="884.3" x2="1403.5" y2="893" stroke="#a3a5b2" stroke-width="1"/><text x="1403.9" y="903.2" font-size="11.6" fill="#8f919e" text-anchor="middle">6. Nov</text>
<line x1="1474.5" y1="884.3" x2="1474.5" y2="893" stroke="#a3a5b2" stroke-width="1"/><text x="1475.4" y="903.2" font-size="11.6" fill="#8f919e" text-anchor="middle">20. Nov</text>
<text x="1542" y="77.4" font-size="12" fill="#9a9ca9" text-anchor="end">105.00</text>
<text x="1542" y="134.5" font-size="12" fill="#9a9ca9" text-anchor="end">102.50</text>
<text x="1542" y="191.6" font-size="12" fill="#9a9ca9" text-anchor="end">100.00</text>
<text x="1542" y="248.6" font-size="12" fill="#9a9ca9" text-anchor="end">97.50</text>
<text x="1542" y="305.7" font-size="12" fill="#9a9ca9" text-anchor="end">95.00</text>
<text x="1542" y="362.8" font-size="12" fill="#9a9ca9" text-anchor="end">92.50</text>
<text x="1542" y="419.9" font-size="12" fill="#9a9ca9" text-anchor="end">90.00</text>
<text x="1542" y="476.9" font-size="12" fill="#9a9ca9" text-anchor="end">87.50</text>
<text x="1542" y="534.0" font-size="12" fill="#9a9ca9" text-anchor="end">85.00</text>
<text x="1542" y="591.1" font-size="12" fill="#9a9ca9" text-anchor="end">82.50</text>
<text x="1542" y="648.1" font-size="12" fill="#9a9ca9" text-anchor="end">80.00</text>
<text x="1536.3" y="724.0" font-size="12" fill="#9a9ca9" text-anchor="end">80.00</text>
<text x="1536.3" y="751.2" font-size="12" fill="#9a9ca9" text-anchor="end">70.00</text>
<text x="1536.3" y="778.4" font-size="12" fill="#9a9ca9" text-anchor="end">60.00</text>
<text x="1536.3" y="805.6" font-size="12" fill="#9a9ca9" text-anchor="end">50.00</text>
<text x="1536.3" y="832.8" font-size="12" fill="#9a9ca9" text-anchor="end">40.00</text>
<text x="1536.3" y="860.0" font-size="12" fill="#9a9ca9" text-anchor="end">30.00</text>
<text x="1536.3" y="887.6" font-size="12" fill="#9a9ca9" text-anchor="end">20.00</text>
<text x="1448.2" y="880.6" font-size="9.5" fill="#b4b6c1" textLength="88.5" lengthAdjust="spacingAndGlyphs">Your local time zone</text>
<rect x="1504" y="437" width="43.2" height="19.2" fill="#b6f58c"/>
<text x="1525.6" y="451" font-size="12" fill="#2c5a1e" text-anchor="middle">88.91</text>
<circle cx="1342.2" cy="546.9" r="118.5" fill="#14151f" opacity="0.35" filter="url(#sh)"/>
<circle cx="1342.2" cy="545.9" r="116.0" fill="#1e202c" stroke="#151722" stroke-width="2"/>
<polyline fill="none" stroke="#f4615f" stroke-width="5.1" stroke-linecap="round" stroke-linejoin="round" points="1262.4,466 1301.1,568.9 1310.3,513.4 1333.6,570.2 1353.1,529.6 1370.7,576.5 1386.1,539.1"/>
<polyline fill="none" stroke="#5ecb98" stroke-width="5.1" stroke-linecap="round" stroke-linejoin="round" points="1386.1,539.1 1414,485"/>
<polyline fill="none" stroke="#5ecb98" stroke-width="5.1" stroke-linecap="round" stroke-linejoin="round" points="1391.5,493.6 1414,484.5 1418.6,509.3"/>
<line x1="1293.5" y1="501.2" x2="1401.8" y2="547.2" stroke="#ffffff" stroke-width="5.1" stroke-linecap="round"/>
<line x1="1277.8" y1="568.1" x2="1401.8" y2="583.2" stroke="#ffffff" stroke-width="5.1" stroke-linecap="round"/>
<text x="1302.2" y="611.7" font-size="20" font-weight="bold" fill="#ffffff" textLength="82.5" lengthAdjust="spacingAndGlyphs">FALLING</text>
<text x="1308.4" y="634.7" font-size="20" font-weight="bold" fill="#ffffff" textLength="70.9" lengthAdjust="spacingAndGlyphs">WEDGE</text>
<g stroke="#3a6f68" stroke-width="1.1" fill="none" opacity="0.55">
<rect x="36" y="25.3" width="4" height="4"/><rect x="20" y="34.4" width="4.4" height="4.4"/><circle cx="35.3" cy="39.1" r="2.3"/><circle cx="26.7" cy="44.7" r="2.3"/><rect x="40" y="40.3" width="4.2" height="4.2"/>
<path d="M29.5 22 L29.5 36 L27 42.5 M29.5 36 L33.5 38 M31.5 30 L36 28 M24.5 36.5 L29 37 M37.5 40 L40 41.5 M25.5 28 L25.5 32"/>
</g>
<text x="50.2" y="42.5" font-size="22.5" font-weight="bold" fill="#ffffff" textLength="65.7" lengthAdjust="spacingAndGlyphs">Trend</text>
<text x="117.6" y="42.5" font-size="22.5" fill="#d4d6df" stroke="#272a3a" stroke-width="0.7" textLength="73" lengthAdjust="spacingAndGlyphs">Spider</text>
<text x="202.9" y="40.3" font-size="12.5" font-weight="bold" fill="#f4f4f8" textLength="155.7" lengthAdjust="spacingAndGlyphs" style="paint-order:stroke" stroke="#1d1f2b" stroke-width="2.2" stroke-linejoin="round" stroke-opacity="0.55">Jul 31, 2023 11:05AM EDT</text>
<text x="23.4" y="71.9" font-size="12" font-weight="bold" fill="#f4f4f8" textLength="142.3" lengthAdjust="spacingAndGlyphs" style="paint-order:stroke" stroke="#1d1f2b" stroke-width="2.2" stroke-linejoin="round" stroke-opacity="0.55">DIS, Daily, Candles chart</text>
<text x="19.9" y="925.1" font-size="10" fill="#e6e6ee" stroke="#e6e6ee" stroke-width="0.45" textLength="87.3" lengthAdjust="spacingAndGlyphs">©2023 TrendSpider</text>
</svg>
</body></html>
